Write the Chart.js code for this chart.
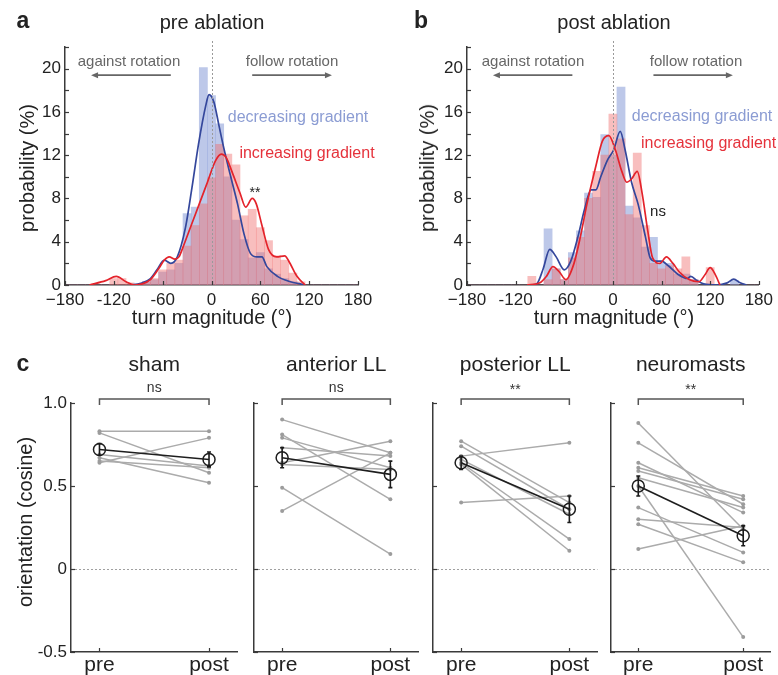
<!DOCTYPE html>
<html><head><meta charset="utf-8">
<script src="https://cdn.jsdelivr.net/npm/chart.js@4.4.1/dist/chart.umd.min.js"></script>
<style>
body{margin:0;background:#fff;width:778px;height:675px;position:relative;overflow:hidden;font-family:"Liberation Sans",Arial,sans-serif;color:#222;}
canvas{position:absolute;}
.t{position:absolute;white-space:nowrap;transform:translate(-50%,-50%);line-height:1;}
.r{transform:translate(-50%,-50%) rotate(-90deg);}
.l{transform:translate(0,-50%);}
</style></head><body>
<canvas id="ca" width="385" height="320" style="left:0;top:0"></canvas>
<canvas id="cb" width="378" height="320" style="left:400px;top:0"></canvas>
<canvas id="c1" width="245" height="345" style="left:0;top:330px"></canvas>
<canvas id="c2" width="180" height="345" style="left:246px;top:330px"></canvas>
<canvas id="c3" width="180" height="345" style="left:425px;top:330px"></canvas>
<canvas id="c4" width="175" height="345" style="left:603px;top:330px"></canvas>

<div class="t" style="left:23px;top:20px;font-size:23px;font-weight:bold">a</div>
<div class="t" style="left:212px;top:22px;font-size:20px">pre ablation</div>
<div class="t" style="left:421px;top:20px;font-size:23px;font-weight:bold">b</div>
<div class="t" style="left:614px;top:22px;font-size:20px">post ablation</div>
<div class="t r" style="left:27px;top:168px;font-size:20px">probability (%)</div>
<div class="t r" style="left:427px;top:168px;font-size:20px">probability (%)</div>
<div class="t" style="left:212px;top:317px;font-size:20px">turn magnitude (°)</div>
<div class="t" style="left:614px;top:317px;font-size:20px">turn magnitude (°)</div>
<div class="t" style="left:129px;top:60px;font-size:15px;color:#666">against rotation</div>
<div class="t" style="left:292px;top:60px;font-size:15px;color:#666">follow rotation</div>
<div class="t" style="left:533px;top:60px;font-size:15px;color:#666">against rotation</div>
<div class="t" style="left:696px;top:60px;font-size:15px;color:#666">follow rotation</div>
<div class="t" style="left:298px;top:117px;font-size:16px;color:#8b9cd3">decreasing gradient</div>
<div class="t" style="left:307px;top:153px;font-size:16px;color:#e5323b">increasing gradient</div>
<div class="t" style="left:702px;top:116px;font-size:16px;color:#8b9cd3">decreasing gradient</div>
<div class="t l" style="left:641px;top:143px;font-size:16px;color:#e5323b">increasing gradient</div>
<div class="t" style="left:255px;top:192px;font-size:14px">**</div>
<div class="t" style="left:658px;top:210px;font-size:15px">ns</div>

<div class="t" style="left:23px;top:363px;font-size:23px;font-weight:bold">c</div>
<div class="t r" style="left:25px;top:522px;font-size:20px">orientation (cosine)</div>
<div id="ctitles"></div>

<script>
// ---------- DATA ----------
const binsDeg = [-180,-170,-160,-150,-140,-130,-120,-110,-100,-90,-80,-70,-60,-50,-40,-30,-20,-10,0,10,20,30,40,50,60,70,80,90,100,110,120,130,140,150,160,170,180];
// panel a (pre ablation) histograms, % per 10 deg bin
const preDecBars = [0,0,0,0,0,0,0,0,0,0,0.3,0.5,1.2,1.4,2.0,6.6,7.2,20.1,17.5,14.9,10.0,6.0,4.2,2.5,3.0,1.5,1.0,0.6,0.3,0,0,0,0,0,0,0,0];
const preIncBars = [0,0,0,0,0,0,0.6,0.6,0.2,0,0.3,0.6,1.4,2.0,2.3,3.6,5.5,7.5,9.9,13.0,12.1,11.1,6.4,7.0,5.3,4.1,2.7,2.3,1.1,0.3,0,0,0,0,0,0,0];
// panel b (post ablation)
const postDecBars = [0,0,0,0,0,0,0,0,0,0,5.2,1.5,0.5,3.0,5.0,8.5,8.1,13.9,12.0,18.3,7.3,6.2,3.5,4.4,2.0,2.0,1.0,1.0,0.5,0,0,0,0,0.4,0,0,0];
const postIncBars = [0,0,0,0,0,0,0,0,0.8,0,0.5,1.5,0.5,2.5,4.4,8.0,10.5,12.0,15.8,13.5,6.5,12.2,5.5,2.0,1.5,1.8,1.5,2.6,0.5,0,1.6,0,0,0,0,0,0];
// density curves
const preDecKdeX = [-100,-87,-75,-67,-58,-50,-42,-32,-24,-16,-7,-3,3,9,15,23,32,40,48,56,62,68,81,97,109,115];
const preDecKdeY = [0,0.15,0.6,1.4,2.3,2.0,2.6,5.3,9.0,13.0,16.6,17.6,16.9,14.8,12.7,10.2,7.5,4.7,2.9,2.6,2.6,1.7,0.8,0.3,0.1,0];
const preIncKdeX = [-150,-130,-117,-105,-95,-85,-75,-65,-58,-52,-45,-40,-35,-25,-15,-5,5,12,18,25,35,42,50,55,62,70,80,90,95,105,115];
const preIncKdeY = [0,0.4,0.8,0.3,0,0.1,0.5,1.5,2.3,2.6,2.4,2.6,3.5,5.5,7.5,9.5,11.5,12.1,11.8,10.5,8.5,7.2,8.0,7.5,5.5,3.3,2.6,2.7,2.2,0.8,0];
const postDecKdeX = [-100,-94,-86,-78,-70,-60,-52,-43,-35,-27,-21,-15,-7,1,9,15,23,31,40,46,52,60,68,80,92,96,104,112,128,141,149,157,165];
const postDecKdeY = [0,0.1,1.5,3.3,2.6,1.4,2.2,4.5,7.0,8.8,8.8,10.0,11.5,12.5,14.2,12.5,9.5,7.5,4.5,2.5,2.2,2.2,1.8,1.0,0.6,0.8,0.4,0.1,0,0.2,0.55,0.2,0];
const postIncKdeX = [-106,-90,-82,-74,-66,-58,-48,-40,-32,-21,-13,-5,3,11,17,23,30,36,43,49,58,66,74,82,94,106,114,120,126,132];
const postIncKdeY = [0,0.2,0.8,1.7,1.2,0.5,2.0,4.5,7.5,11.0,13.3,13.8,12.5,10.5,9.5,9.8,10.5,8.5,5.0,2.5,2.0,2.6,2.0,1.2,0.5,0.3,1.0,1.6,1.0,0];
const histTickValues = [-180,-120,-60,0,60,120,180];
const histTickLabels = ['\u2212180','-120','-60','0','60','120','180'];

// panel c
const conditions = ['sham','anterior LL','posterior LL','neuromasts'];
const shamPre  = [0.83,0.82,0.64,0.69,0.67,0.65];
const shamPost = [0.83,0.58,0.79,0.62,0.52,0.61];
const antPre   = [0.90,0.81,0.79,0.35,0.49,0.64,0.73,0.63];
const antPost  = [0.70,0.42,0.61,0.70,0.09,0.77,0.68,0.60];
const postLLPre  = [0.68,0.40,0.77,0.74,0.64,0.63,0.66];
const postLLPost = [0.76,0.44,0.40,0.36,0.18,0.11,0.33];
const neuroPre  = [0.88,0.76,0.64,0.59,0.61,0.50,0.37,0.30,0.27,0.12,0.55];
const neuroPost = [0.24,0.39,0.34,0.42,0.44,-0.41,0.10,0.25,0.04,0.26,0.37];
const meanPre  = [0.72,0.67,0.64,0.50];
const meanPost = [0.66,0.57,0.36,0.20];
const semPre   = [0.035,0.06,0.04,0.06];
const semPost  = [0.045,0.08,0.08,0.06];
const sigLabels = ['ns','ns','**','**'];
const phaseLabels = ['pre','post'];
const cTickValues = [-0.5,0,0.5,1.0];
const cTickLabels = ['-0.5','0','0.5','1.0'];

// ---------- SETUP ----------
Chart.defaults.font.family = '"Liberation Sans", Arial, sans-serif';
Chart.defaults.color = '#222';
const AX = '#3a3a3a';

const inTicks = {
  id:'inTicks',
  afterDraw(chart){
    const {ctx, chartArea:a, scales:{x,y}} = chart;
    ctx.save(); ctx.strokeStyle = AX; ctx.lineWidth = 1.2;
    y.ticks.forEach(t=>{const p=Math.round(y.getPixelForValue(t.value))+0.5; ctx.beginPath(); ctx.moveTo(a.left,p); ctx.lineTo(a.left+4,p); ctx.stroke();});
    x.ticks.forEach(t=>{const p=Math.round(x.getPixelForValue(t.value))+0.5; ctx.beginPath(); ctx.moveTo(p,a.bottom); ctx.lineTo(p,a.bottom-4); ctx.stroke();});
    ctx.restore();
  }
};

const histDeco = {
  id:'histDeco',
  afterDatasetsDraw(chart){
    const {ctx, chartArea:a, scales:{x,y}} = chart;
    ctx.save();
    ctx.strokeStyle='#9a9a9a'; ctx.lineWidth=1; ctx.setLineDash([2,2]);
    const x0 = Math.round(x.getPixelForValue(0))+0.5;
    ctx.beginPath(); ctx.moveTo(x0,a.top-6); ctx.lineTo(x0,a.bottom); ctx.stroke();
    ctx.setLineDash([]);
    const ay = y.getPixelForValue(19.4);
    ctx.strokeStyle='#666'; ctx.fillStyle='#666'; ctx.lineWidth=1.6;
    [[-50,-148],[50,148]].forEach(([s,e])=>{
      const xs=x.getPixelForValue(s), xe=x.getPixelForValue(e), d=Math.sign(xe-xs);
      ctx.beginPath(); ctx.moveTo(xs,ay); ctx.lineTo(xe-d*5,ay); ctx.stroke();
      ctx.beginPath(); ctx.moveTo(xe,ay); ctx.lineTo(xe-d*7,ay-3); ctx.lineTo(xe-d*7,ay+3); ctx.closePath(); ctx.fill();
    });
    ctx.restore();
  }
};

function pts(xs, ys){ return xs.map((v,i)=>({x:v, y:ys[i]})); }

function histChart(id, decBars, incBars, dKx, dKy, iKx, iKy, yW, padR){
  return new Chart(document.getElementById(id), {
    type:'bar',
    data:{datasets:[
      {type:'line', data:pts(iKx,iKy), borderColor:'#e4232b', borderWidth:1.7, pointRadius:0, cubicInterpolationMode:'monotone', order:0},
      {type:'line', data:pts(dKx,dKy), borderColor:'#34479c', borderWidth:1.7, pointRadius:0, cubicInterpolationMode:'monotone', order:1},
      {type:'bar', data:pts(binsDeg,incBars), backgroundColor:'rgba(240,110,110,0.45)', grouped:false, barPercentage:1, categoryPercentage:1, order:2},
      {type:'bar', data:pts(binsDeg,decBars), backgroundColor:'rgba(135,155,215,0.55)', grouped:false, barPercentage:1, categoryPercentage:1, order:3}
    ]},
    options:{
      responsive:false, animation:false, devicePixelRatio:1,
      layout:{padding:{top:47,right:padR,left:0,bottom:0}},
      plugins:{legend:{display:false}, tooltip:{enabled:false}},
      scales:{
        x:{type:'linear', min:-180, max:180, offset:false,
           grid:{display:false, drawTicks:false}, border:{display:true,color:AX,width:1.5},
           afterBuildTicks:s=>{s.ticks = histTickValues.map(v=>({value:v}));},
           ticks:{autoSkip:false, maxRotation:0, padding:5, font:{size:17}, color:'#222',
                  callback:(v)=>histTickLabels[histTickValues.indexOf(v)]},
           afterFit:s=>{s.height=35;}},
        y:{min:0, max:22,
           grid:{display:false, drawTicks:false}, border:{display:true,color:AX,width:1.5},
           ticks:{stepSize:2, autoSkip:false, padding:4, font:{size:17}, color:'#222',
                  callback:(v)=> (v%4===0 && v<=20) ? String(v) : ''},
           afterFit:s=>{s.width=yW;}}
      }
    },
    plugins:[inTicks, histDeco]
  });
}

histChart('ca', preDecBars, preIncBars, preDecKdeX, preDecKdeY, preIncKdeX, preIncKdeY, 65, 27);
histChart('cb', postDecBars, postIncBars, postDecKdeX, postDecKdeY, postIncKdeX, postIncKdeY, 67, 17);

// ---------- panel c ----------
const cDeco = {
  id:'cDeco',
  beforeDatasetsDraw(chart){
    const {ctx, chartArea:a, scales:{y}} = chart;
    ctx.save(); ctx.strokeStyle='#a0a0a0'; ctx.lineWidth=1; ctx.setLineDash([2,2]);
    const y0=Math.round(y.getPixelForValue(0))+0.5;
    ctx.beginPath(); ctx.moveTo(a.left,y0); ctx.lineTo(a.right,y0); ctx.stroke(); ctx.restore();
  },
  afterDatasetsDraw(chart, args, opts){
    const {ctx, chartArea:a, scales:{x,y}} = chart;
    const i = opts.idx;
    ctx.save(); ctx.strokeStyle='#1a1a1a'; ctx.lineWidth=1.6;
    [[1,meanPre[i],semPre[i]],[2,meanPost[i],semPost[i]]].forEach(([xv,m,e])=>{
      const px=x.getPixelForValue(xv), t=y.getPixelForValue(m+e), b=y.getPixelForValue(m-e);
      ctx.beginPath(); ctx.moveTo(px,t); ctx.lineTo(px,b);
      ctx.moveTo(px-2,t); ctx.lineTo(px+2,t); ctx.moveTo(px-2,b); ctx.lineTo(px+2,b); ctx.stroke();
    });
    const x1=x.getPixelForValue(1), x2=x.getPixelForValue(2), by=a.top-4;
    ctx.strokeStyle='#555'; ctx.lineWidth=1.5;
    ctx.beginPath(); ctx.moveTo(x1,by+6); ctx.lineTo(x1,by); ctx.lineTo(x2,by); ctx.lineTo(x2,by+6); ctx.stroke();
    ctx.restore();
  }
};

const cPre = [shamPre, antPre, postLLPre, neuroPre];
const cPost = [shamPost, antPost, postLLPost, neuroPost];
const cIds = ['c1','c2','c3','c4'];
const cYW = [71,8,8,8];
const cPadR = [5,4,4,0];

cIds.forEach((id,i)=>{
  const ds = cPre[i].map((p,k)=>({data:[{x:1,y:p},{x:2,y:cPost[i][k]}], borderColor:'#ababab', borderWidth:1.5,
     pointRadius:2, pointBackgroundColor:'#9c9c9c', pointBorderWidth:0, order:2}));
  ds.push({data:[{x:1,y:meanPre[i]},{x:2,y:meanPost[i]}], borderColor:'#1e1e1e', borderWidth:1.6,
     pointRadius:6, pointBackgroundColor:'rgba(255,255,255,0)', pointBorderColor:'#1e1e1e', pointBorderWidth:1.5, order:0});
  const chart = new Chart(document.getElementById(id), {
    type:'line',
    data:{datasets:ds},
    options:{
      responsive:false, animation:false, devicePixelRatio:1,
      layout:{padding:{top:73,right:cPadR[i],left:0,bottom:0}},
      plugins:{legend:{display:false}, tooltip:{enabled:false}, cDeco:{idx:i}},
      elements:{line:{tension:0}},
      scales:{
        x:{type:'linear', min:0.74, max:2.26,
           grid:{display:false, drawTicks:false}, border:{display:true,color:AX,width:1.5},
           afterBuildTicks:s=>{s.ticks=[{value:1},{value:2}];},
           ticks:{autoSkip:false, maxRotation:0, padding:1, font:{size:21}, color:'#222',
                  callback:(v)=>phaseLabels[v-1]},
           afterFit:s=>{s.height=23;}},
        y:{min:-0.5, max:1.0,
           grid:{display:false, drawTicks:false}, border:{display:true,color:AX,width:1.5},
           afterBuildTicks:s=>{s.ticks=cTickValues.map(v=>({value:v}));},
           ticks:{display:i===0, autoSkip:false, padding:4, font:{size:17}, color:'#222',
                  callback:(v)=>cTickLabels[cTickValues.indexOf(v)]},
           afterFit:s=>{s.width=cYW[i];}}
      }
    },
    plugins:[inTicks, cDeco]
  });
  const ca = chart.chartArea, left = parseFloat(chart.canvas.style.left);
  const cx = left + (ca.left+ca.right)/2;
  const holder = document.getElementById('ctitles');
  const t = document.createElement('div'); t.className='t'; t.style.cssText=`left:${cx}px;top:363px;font-size:21px`; t.textContent=conditions[i]; holder.appendChild(t);
  const s = document.createElement('div'); s.className='t'; s.style.cssText=`left:${cx}px;top:${sigLabels[i]==='ns'?387:389}px;font-size:14px;color:#333`; s.textContent=sigLabels[i]; holder.appendChild(s);
});
</script>
</body></html>
